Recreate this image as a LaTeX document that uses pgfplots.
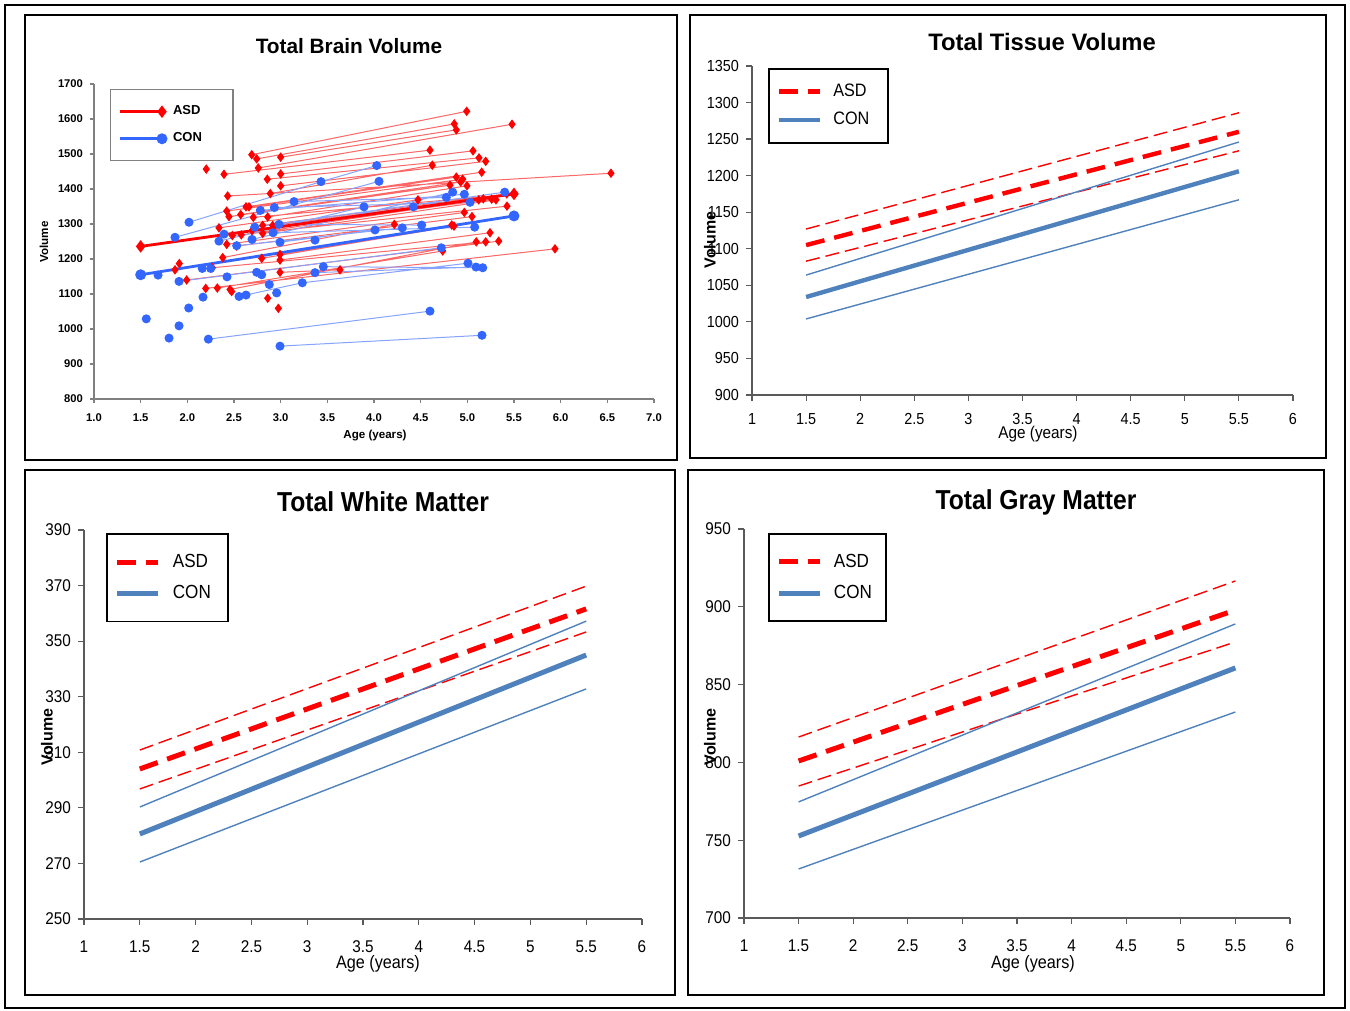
\documentclass[border=0pt]{standalone}
\usepackage{fontspec}
\setmainfont{Liberation Sans}
\newfontfamily\nsans[FakeStretch=0.9]{Liberation Sans}
\newfontfamily\tbfont[FakeStretch=0.9]{Liberation Sans}
\usepackage{pgfplots}
\pgfplotsset{compat=1.18}
\usepackage{pgfplotstable}
\definecolor{asdred}{RGB}{255,0,0}
\definecolor{conblue}{RGB}{51,102,255}
\definecolor{xlblue}{RGB}{79,129,189}
\definecolor{tlgray}{RGB}{128,128,128}
\definecolor{axgray}{RGB}{90,90,90}

\pgfplotstableread{
x y
2.690 1498
4.993 1622
nan nan
2.743 1486
4.860 1586
nan nan
3.000 1491
4.882 1569
nan nan
2.393 1442
4.600 1511
nan nan
2.760 1460
5.479 1585
nan nan
3.000 1443
5.061 1509
nan nan
2.857 1428
5.125 1489
nan nan
3.000 1409
5.197 1479
nan nan
2.889 1387
4.625 1468
nan nan
2.432 1380
6.539 1445
nan nan
2.629 1349
5.154 1448
nan nan
2.661 1349
4.882 1434
nan nan
2.422 1337
4.950 1428
nan nan
2.572 1327
4.929 1420
nan nan
2.446 1321
4.814 1411
nan nan
2.861 1320
4.996 1409
nan nan
2.707 1319
5.507 1386
nan nan
2.807 1296
5.422 1386
nan nan
2.915 1296
5.171 1372
nan nan
2.339 1289
4.471 1369
nan nan
2.693 1281
5.261 1371
nan nan
2.807 1273
5.307 1369
nan nan
2.578 1269
5.122 1369
nan nan
2.482 1267
5.425 1351
nan nan
2.422 1242
4.968 1333
nan nan
2.529 1237
5.050 1321
nan nan
2.993 1213
4.833 1297
nan nan
2.379 1204
4.218 1299
nan nan
2.797 1202
4.857 1294
nan nan
2.993 1197
5.243 1275
nan nan
2.268 1175
5.197 1249
nan nan
1.993 1140
5.336 1251
nan nan
2.197 1116
5.939 1229
nan nan
2.321 1117
4.736 1223
nan nan
2.457 1113
5.096 1249
nan nan
2.993 1162
3.636 1169
nan nan
2.203 1457
nan nan
1.914 1187
nan nan
1.868 1169
nan nan
2.475 1107
nan nan
2.861 1088
nan nan
2.975 1059
}\asdsub

\pgfplotstableread{
x y
2.018 1305
3.432 1421
4.029 1467
nan nan
1.868 1262
4.054 1422
nan nan
2.393 1271
4.421 1349
nan nan
2.339 1251
3.893 1349
nan nan
2.529 1238
4.303 1289
nan nan
2.693 1256
4.843 1391
nan nan
2.722 1291
5.400 1391
nan nan
2.782 1339
4.968 1385
nan nan
2.932 1347
5.029 1362
nan nan
3.143 1364
4.775 1376
nan nan
2.982 1299
4.511 1297
nan nan
2.918 1275
5.079 1291
nan nan
2.993 1248
4.011 1283
nan nan
1.911 1136
4.721 1232
nan nan
2.554 1093
3.232 1132
5.007 1188
nan nan
3.368 1161
5.093 1177
nan nan
3.457 1178
5.165 1175
nan nan
2.225 971
4.600 1051
nan nan
2.993 951
5.157 982
nan nan
1.560 1029
nan nan
1.911 1009
nan nan
1.804 974
nan nan
2.015 1060
nan nan
2.168 1091
nan nan
2.629 1097
nan nan
2.878 1127
nan nan
2.957 1103
nan nan
2.425 1149
nan nan
2.160 1173
nan nan
2.250 1173
nan nan
1.686 1154
nan nan
2.743 1162
nan nan
2.797 1155
nan nan
3.368 1254
}\consub

\pgfplotstableread{
x y
1.5 1236
5.5 1386
}\asdmean
\pgfplotstableread{
x y
1.5 1155
5.5 1323
}\conmean

\pgfplotstableread{
x m lo hi
1.5 1105 1083 1127
5.5 1260 1234 1286
}\tisA
\pgfplotstableread{
x m lo hi
1.5 1034 1004 1064
5.5 1206 1167 1246
}\tisC
\pgfplotstableread{
x m lo hi
1.5 304.0 296.8 310.8
5.5 361.6 353.3 369.8
}\wmA
\pgfplotstableread{
x m lo hi
1.5 280.6 270.5 290.3
5.5 345.0 332.8 357.2
}\wmC
\pgfplotstableread{
x m lo hi
1.5 800.9 784.8 816.3
5.5 897.9 877.4 916.6
}\gmA
\pgfplotstableread{
x m lo hi
1.5 752.7 731.5 774.6
5.5 860.7 832.4 889.0
}\gmC

\pgfplotsset{
  /pgf/number format/1000 sep={},
  lstyle/.style={
    anchor=south west, scale only axis, clip=false,
    xmin=1, xmax=6, xtick={1,1.5,...,6},
    axis x line*=bottom, axis y line*=left,
    axis line style={-, draw=axgray, line width=0.6pt},
    tick align=outside, major tick length=3pt,
    tick style={draw=axgray, line width=0.6pt},
    /pgf/number format/assume math mode=true,
    legend cell align=left,
    legend image code/.code={\draw[##1] (0pt,0pt) -- (20.5pt,0pt);},
  },
  asdM/.style={asdred, line width=2.2pt, dash pattern=on 9.5pt off 5pt},
  asdT/.style={asdred, line width=0.7pt, dash pattern=on 7pt off 3pt, forget plot},
  conM/.style={xlblue, line width=2.2pt},
  conT/.style={xlblue, line width=0.7pt, forget plot},
}

\begin{document}
\begin{tikzpicture}
\useasboundingbox (0,0) rectangle (675pt,505.5pt);
\draw[line width=0.8pt] (2.5pt,1.5pt) rectangle (672.5pt,503pt);
\draw[line width=0.9pt] (12.5pt,275.5pt) rectangle (338.5pt,498pt);
\draw[line width=1pt] (345pt,276.5pt) rectangle (663pt,498pt);
\draw[line width=1pt] (12.5pt,8pt) rectangle (337.5pt,270.5pt);
\draw[line width=1pt] (344pt,8pt) rectangle (662pt,270.5pt);

% ---------------- Total Brain Volume
\begin{axis}[
  at={(47pt,306pt)}, anchor=south west, scale only axis,
  width=280pt, height=157.5pt, clip=false,
  xmin=1, xmax=7, ymin=800, ymax=1700,
  axis x line*=bottom, axis y line*=left,
  axis line style={-, draw=tlgray, line width=0.7pt},
  xtick={1,1.5,...,7}, ytick={800,900,...,1700},
  tick align=outside, major tick length=2pt,
  tick style={draw=tlgray, line width=0.6pt},
  tick label style={font=\bfseries\fontsize{5.6}{6}\selectfont},
  xticklabel style={yshift=-2pt, /pgf/number format/.cd, fixed, fixed zerofill, precision=1},
  /pgf/number format/assume math mode=true,
  unbounded coords=jump,
  legend style={at={(axis description cs:0.0286,0.984)}, anchor=north west,
    draw=tlgray, line width=0.6pt, font=\bfseries\fontsize{6.5}{7}\selectfont,
    inner xsep=4pt, inner ysep=6pt, row sep=3.5pt},
  legend cell align=left,
  legend image code/.code={\draw[mark repeat=3,mark phase=3,#1] plot coordinates {(0pt,0pt) (11pt,0pt) (21pt,0pt)};},
]
\addplot[forget plot, draw=asdred!60, line width=0.5pt, mark=diamond*, mark size=2pt,
  mark options={draw=asdred, fill=asdred, solid}] table {\asdsub};
\addplot[forget plot, draw=conblue!60, line width=0.5pt, mark=*, mark size=2pt,
  mark options={draw=conblue, fill=conblue, solid}] table {\consub};
\addplot[asdred, line width=1.4pt, mark=diamond*, mark size=2pt] table {\asdmean};
\addlegendentry{\hspace{1.5pt}ASD\kern9.5pt}
\addplot[conblue, line width=1.4pt, mark=*, mark size=2pt] table {\conmean};
\addlegendentry{\hspace{1.5pt}CON\kern9.5pt}
\end{axis}
\node[font=\bfseries\fontsize{10.4}{12}\selectfont] at (174.5pt,482.5pt) {Total Brain Volume};
\node[font=\bfseries\fontsize{5.8}{7}\selectfont] at (187.5pt,287.5pt) {Age (years)};
\node[font=\bfseries\fontsize{5.8}{7}\selectfont, rotate=90] at (22pt,384.5pt) {Volume};

% ---------------- Total Tissue Volume
\begin{axis}[lstyle, at={(376pt,308pt)}, width=270.5pt, height=164.5pt,
  ymin=900, ymax=1350, ytick={900,950,...,1350},
  tick label style={font=\nsans\fontsize{8}{9}\selectfont},
  xticklabel style={yshift=-2.5pt},
  legend style={at={(axis description cs:0.0296,0.994)}, anchor=north west,
    draw=black, line width=0.9pt, font=\nsans\fontsize{9}{10}\selectfont,
    inner xsep=4pt, inner ysep=5.5pt, row sep=2.5pt},
]
\addplot[asdM] table[x=x,y=m] {\tisA}; \addlegendentry{\hspace{3.5pt}ASD\kern3.5pt}
\addplot[conM] table[x=x,y=m] {\tisC}; \addlegendentry{\hspace{3.5pt}CON\kern3.5pt}
\addplot[asdT] table[x=x,y=lo] {\tisA};
\addplot[asdT] table[x=x,y=hi] {\tisA};
\addplot[conT] table[x=x,y=lo] {\tisC};
\addplot[conT] table[x=x,y=hi] {\tisC};
\end{axis}
\node[font=\bfseries\fontsize{11.9}{14}\selectfont] at (521pt,484.5pt) {Total Tissue Volume};
\node[font=\nsans\fontsize{8.5}{10}\selectfont] at (519pt,288.5pt) {Age (years)};
\node[font=\bfseries\fontsize{8}{9}\selectfont, rotate=90] at (355pt,385.5pt) {Volume};

% ---------------- Total White Matter
\begin{axis}[lstyle, at={(42pt,46pt)}, width=279pt, height=194.5pt,
  ymin=250, ymax=390, ytick={250,270,...,390},
  tick label style={font=\nsans\fontsize{8.5}{10}\selectfont},
  xticklabel style={yshift=-4.5pt},
  legend style={at={(axis description cs:0.0394,0.992)}, anchor=north west,
    draw=black, line width=0.9pt, font=\nsans\fontsize{9.5}{11}\selectfont,
    inner xsep=4pt, inner ysep=8pt, row sep=3.5pt},
]
\addplot[asdM, line width=2.5pt] table[x=x,y=m] {\wmA}; \addlegendentry{\hspace{4pt}ASD\kern2.5pt}
\addplot[conM, line width=2.5pt] table[x=x,y=m] {\wmC}; \addlegendentry{\hspace{4pt}CON\kern2.5pt}
\addplot[asdT] table[x=x,y=lo] {\wmA};
\addplot[asdT] table[x=x,y=hi] {\wmA};
\addplot[conT] table[x=x,y=lo] {\wmC};
\addplot[conT] table[x=x,y=hi] {\wmC};
\end{axis}
\node[font=\tbfont\bfseries\fontsize{13.7}{16}\selectfont] at (191.5pt,254.5pt) {Total White Matter};
\node[font=\nsans\fontsize{9}{10}\selectfont] at (189pt,23.5pt) {Age (years)};
\node[font=\bfseries\fontsize{8}{9}\selectfont, rotate=90] at (23.5pt,137pt) {Volume};

% ---------------- Total Gray Matter
\begin{axis}[lstyle, at={(372pt,46.5pt)}, width=273pt, height=194.5pt,
  ymin=700, ymax=950, ytick={700,750,...,950},
  tick label style={font=\nsans\fontsize{8.5}{10}\selectfont},
  xticklabel style={yshift=-4.5pt},
  legend style={at={(axis description cs:0.044,0.99)}, anchor=north west,
    draw=black, line width=0.9pt, font=\nsans\fontsize{9.5}{11}\selectfont,
    inner xsep=4pt, inner ysep=8pt, row sep=3.5pt},
]
\addplot[asdM, line width=2.5pt] table[x=x,y=m] {\gmA}; \addlegendentry{\hspace{3.5pt}ASD\kern1pt}
\addplot[conM, line width=2.5pt] table[x=x,y=m] {\gmC}; \addlegendentry{\hspace{3.5pt}CON\kern1pt}
\addplot[asdT] table[x=x,y=lo] {\gmA};
\addplot[asdT] table[x=x,y=hi] {\gmA};
\addplot[conT] table[x=x,y=lo] {\gmC};
\addplot[conT] table[x=x,y=hi] {\gmC};
\end{axis}
\node[font=\tbfont\bfseries\fontsize{13.7}{16}\selectfont] at (518pt,254.5pt) {Total Gray Matter};
\node[font=\nsans\fontsize{9}{10}\selectfont] at (516.5pt,23.5pt) {Age (years)};
\node[font=\bfseries\fontsize{8}{9}\selectfont, rotate=90] at (355pt,137pt) {Volume};
\end{tikzpicture}
\end{document}
